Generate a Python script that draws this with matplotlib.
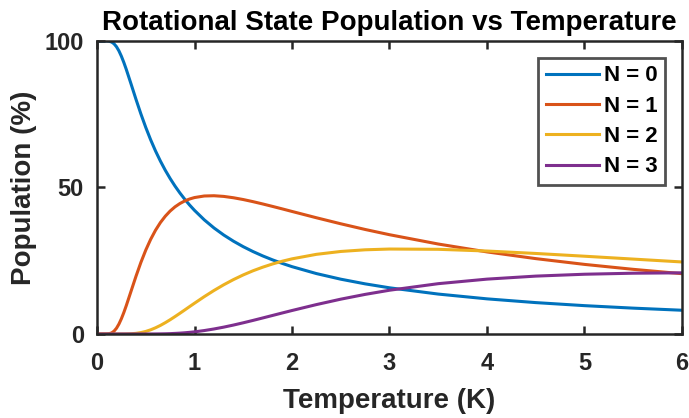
import matplotlib
matplotlib.use("Agg")
import matplotlib.pyplot as plt

temperature = [0, 0.05, 0.1, 0.125, 0.15, 0.175, 0.2, 0.225, 0.25, 0.275,
               0.3, 0.35, 0.4, 0.45, 0.5, 0.55, 0.6, 0.65, 0.7, 0.75,
               0.8, 0.85, 0.9, 0.95, 1.0, 1.1, 1.2, 1.3, 1.4, 1.5,
               1.6, 1.7, 1.8, 1.9, 2.0, 2.25, 2.5, 2.75, 3.0, 3.5,
               4.0, 4.5, 5.0, 5.5, 6.0]
pop_n0 = [100, 100, 99.99, 99.90, 99.62, 99.02, 98.02, 96.60, 94.79, 92.67,
          90.32, 85.24, 80.06, 75.11, 70.50, 66.29, 62.47, 59.02, 55.89, 53.06,
          50.48, 48.13, 45.98, 44.00, 42.19, 38.96, 36.18, 33.77, 31.66, 29.79,
          28.13, 26.64, 25.30, 24.09, 22.98, 20.62, 18.70, 17.11, 15.76, 13.62,
          11.99, 10.71, 9.67, 8.82, 8.10]
pop_n1 = [0, 0, 0.01, 0.10, 0.38, 0.98, 1.98, 3.40, 5.21, 7.32,
          9.66, 14.69, 19.72, 24.42, 28.62, 32.28, 35.40, 38.02, 40.18, 41.96,
          43.39, 44.52, 45.41, 46.07, 46.56, 47.09, 47.18, 46.95, 46.49, 45.88,
          45.16, 44.37, 43.54, 42.69, 41.82, 39.67, 37.61, 35.67, 33.88, 30.70,
          28.01, 25.72, 23.75, 22.06, 20.58]
pop_n2 = [0, 0, 0, 0, 0, 0, 0, 0, 0.003, 0.008,
          0.02, 0.08, 0.22, 0.48, 0.87, 1.42, 2.11, 2.92, 3.85, 4.86,
          5.94, 7.06, 8.20, 9.36, 10.50, 12.74, 14.85, 16.80, 18.57, 20.16,
          21.57, 22.80, 23.89, 24.83, 25.64, 27.18, 28.16, 28.73, 28.99, 28.90,
          28.31, 27.48, 26.54, 25.56, 24.58]
pop_n3 = [0, 0, 0, 0, 0, 0, 0, 0, 0, 0,
          0, 0, 0, 0, 0.0, 0.01, 0.02, 0.04, 0.07, 0.12,
          0.20, 0.29, 0.41, 0.56, 0.73, 1.17, 1.71, 2.34, 3.05, 3.82,
          4.63, 5.47, 6.32, 7.17, 8.01, 10.03, 11.88, 13.51, 14.93, 17.17,
          18.72, 19.75, 20.39, 20.74, 20.87]
series_labels = ["N = 0", "N = 1", "N = 2", "N = 3"]
x_ticks = [0, 1, 2, 3, 4, 5, 6]
y_ticks = [0, 50, 100]

colors = ["#0072BD", "#D95319", "#EDB120", "#7E2F8E"]

plt.rcParams['font.family'] = ['Liberation Sans', 'DejaVu Sans']
plt.rcParams['font.weight'] = 'bold'

fig = plt.figure(figsize=(6.89, 4.18), dpi=100)
ax = fig.add_axes([0.1408, 0.201, 0.849, 0.701])

for y, c, lab in zip([pop_n0, pop_n1, pop_n2, pop_n3], colors, series_labels):
    ax.plot(temperature, y, color=c, lw=2.2, label=lab, solid_joinstyle='round')

ax.set_xlim(0, 6)
ax.set_ylim(0, 100)
ax.set_xticks(x_ticks)
ax.set_yticks(y_ticks)
ax.tick_params(direction='in', length=6, width=1.8, labelsize=17, colors='#262626',
               top=True, right=True)
ax.tick_params(axis='x', pad=13)
ax.tick_params(axis='y', pad=9.5)
for lbl in ax.get_xticklabels() + ax.get_yticklabels():
    lbl.set_fontweight('bold')
    lbl.set_color('#262626')
for s in ax.spines.values():
    s.set_linewidth(1.8)
    s.set_color('#262626')

ax.set_xlabel("Temperature (K)", fontsize=20, fontweight='bold', labelpad=9.5,
              color='#262626')
ax.set_ylabel("Population (%)", fontsize=20, fontweight='bold', labelpad=5,
              color='#262626')
ax.set_title("Rotational State Population vs Temperature", fontsize=20,
             fontweight='bold', pad=8, color='black')

leg = ax.legend(loc='upper right', fontsize=16, frameon=True, fancybox=False,
                edgecolor='#262626', handlelength=2.4, borderpad=0.35,
                labelspacing=0.42, handletextpad=0.22, borderaxespad=0.75)
leg.get_frame().set_linewidth(2.0)
for t in leg.get_texts():
    t.set_fontweight('bold')

fig.savefig("out.png", dpi=100)
